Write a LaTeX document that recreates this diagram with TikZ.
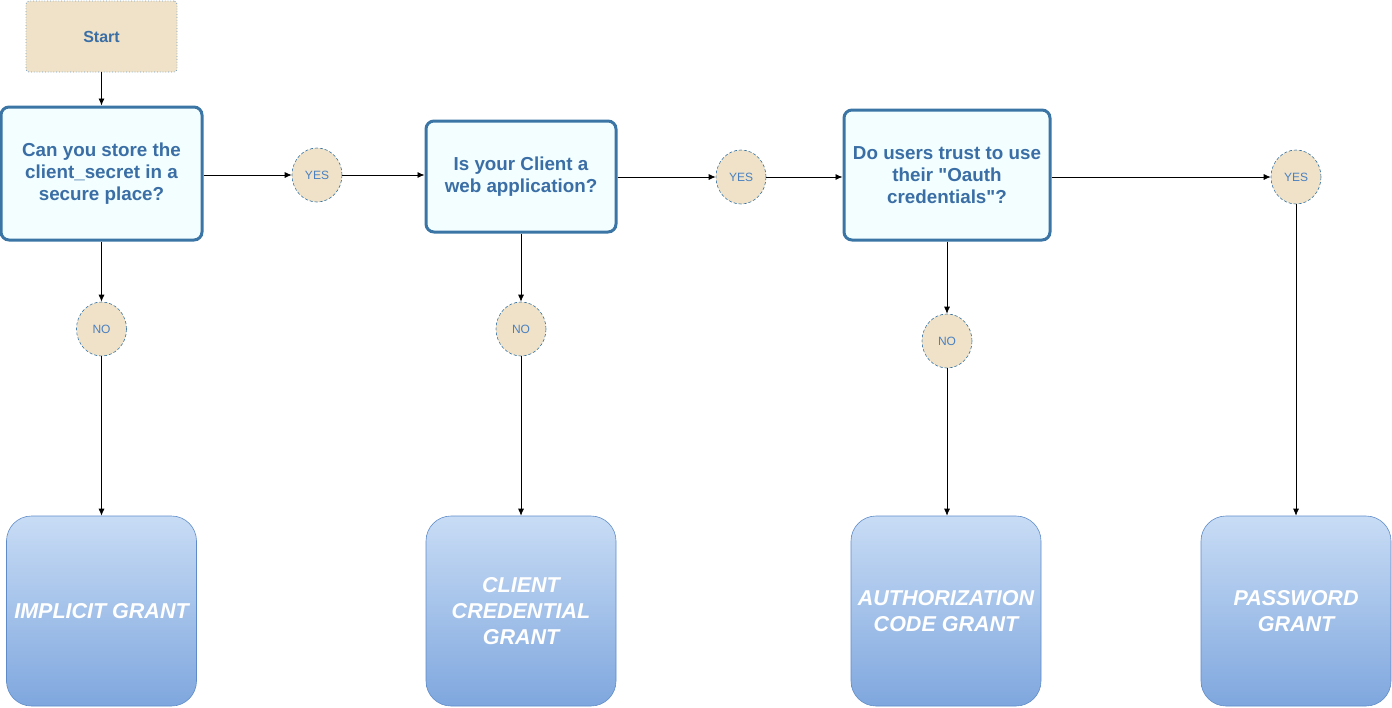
\documentclass[tikz,border=0pt]{standalone}
\usepackage{fontspec}
\setmainfont{Liberation Sans}
\newfontfamily\plainsans{Liberation Sans}
\usetikzlibrary{shapes.geometric,arrows.meta}
\definecolor{qtext}{HTML}{3A6EA5}
\definecolor{qborder}{HTML}{3A75A5}
\definecolor{qfill}{HTML}{F2FEFF}
\definecolor{tan}{HTML}{EFE2C8}
\definecolor{ctext}{HTML}{4A80C0}
\definecolor{gtop}{HTML}{C8DCF5}
\definecolor{gbot}{HTML}{7FA7DE}
\definecolor{gborder}{HTML}{5F8CC8}
\tikzset{
  startbox/.style={rectangle, rounded corners=3pt, fill=tan, draw=qborder!70, dotted, line width=0.8pt,
    minimum width=151pt, minimum height=71pt, inner sep=0pt, text=qtext, font=\bfseries\fontsize{16}{18}\selectfont},
  qbox/.style={rectangle, rounded corners=8pt, fill=qfill, draw=qborder, line width=3pt, inner sep=0pt,
    align=center, text=qtext, font=\plainsans\bfseries\fontsize{18.8}{22}\selectfont},
  yn/.style={ellipse, fill=tan, draw=qborder, densely dashed, line width=0.6pt, minimum width=50pt,
    minimum height=54pt, inner sep=0pt, text=ctext, font=\fontsize{12}{13}\selectfont},
  grant/.style={rectangle, rounded corners=25pt, top color=gtop, bottom color=gbot, draw=gborder, line width=0.6pt,
    minimum width=190pt, minimum height=190pt, inner sep=0pt, align=center, text=white,
    font=\bfseries\itshape\fontsize{21.5}{26}\selectfont},
  conn/.style={draw=black, line width=0.8pt, -{Latex[length=7pt,width=6pt]}}
}
\begin{document}
\begin{tikzpicture}[x=1pt,y=-1pt]
\useasboundingbox (0,0) rectangle (1392,707);
\node[startbox] (start) at (101.5,36.5) {Start};
\node[qbox, minimum width=201pt, minimum height=133pt] (q1) at (101.5,173.5) {Can you store the\\client\_secret in a\\secure place?};
\node[qbox, minimum width=190pt, minimum height=111pt] (q2) at (521,176.5) {Is your Client a\\web application?};
\node[qbox, minimum width=206pt, minimum height=130pt] (q3) at (947,175) {Do users trust to use\\their "Oauth\\credentials"?};
\node[yn] (y1) at (317,175) {YES};
\node[yn] (y2) at (741,177) {YES};
\node[yn] (y3) at (1296,177) {YES};
\node[yn] (n1) at (101.5,329) {NO};
\node[yn] (n2) at (521,329) {NO};
\node[yn] (n3) at (947,341) {NO};
\node[grant] (g1) at (101.5,611) {IMPLICIT GRANT};
\node[grant] (g2) at (521,611) {CLIENT\\CREDENTIAL\\GRANT};
\node[grant] (g3) at (946,611) {AUTHORIZATION\\CODE GRANT};
\node[grant] (g4) at (1296,611) {PASSWORD\\GRANT};
\draw[conn] (start) -- (q1);
\draw[conn] (q1.east |- y1) -- (y1);
\draw[conn] (y1) -- (q2.west |- y1);
\draw[conn] (q2.east |- y2) -- (y2);
\draw[conn] (y2) -- (q3.west |- y2);
\draw[conn] (q3.east |- y3) -- (y3);
\draw[conn] (y3) -- (g4);
\draw[conn] (q1) -- (n1);
\draw[conn] (n1) -- (g1);
\draw[conn] (q2) -- (n2);
\draw[conn] (n2) -- (g2);
\draw[conn] (q3) -- (n3);
\draw[conn] (n3) -- (n3 |- g3.north);
\end{tikzpicture}
\end{document}
